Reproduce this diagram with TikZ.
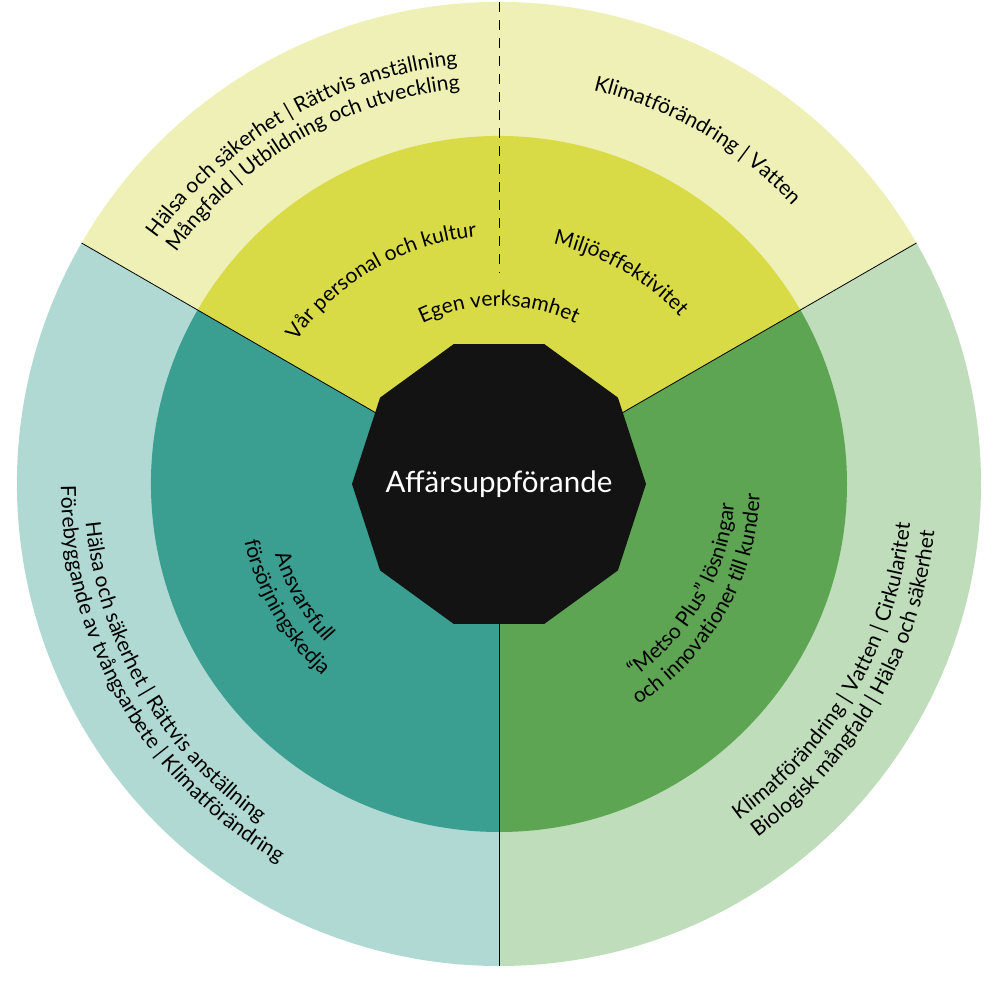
\documentclass[tikz,border=0pt]{standalone}
\usepackage{fontspec}
\setmainfont{Lato}
\usetikzlibrary{decorations.text}
\definecolor{lyel}{HTML}{EEF0B5}
\definecolor{dyel}{HTML}{D9DB46}
\definecolor{lteal}{HTML}{B0D9D4}
\definecolor{dteal}{HTML}{3A9E90}
\definecolor{lgrn}{HTML}{BFDDBA}
\definecolor{dgrn}{HTML}{5DA453}
\definecolor{coreblack}{HTML}{131313}
\newcommand\fsm{\fontsize{21}{24}\selectfont}
\tikzset{
  arctext/.style={decorate, decoration={text along path, text format delimiters={[}{]}, text align=center, text={[\fsm]#1}}},
  divider/.style={draw=black, line width=0.8pt},
  dashdiv/.style={draw=black, line width=0.9pt, dash pattern=on 10pt off 8pt},
}
\begin{document}
\begin{tikzpicture}[x=1pt,y=1pt]
\useasboundingbox (-499,-503) rectangle (507,484);
% outer ring sectors
\fill[lyel]  (0,0) -- (30:482) arc[start angle=30, end angle=150, radius=482] -- cycle;
\fill[lteal] (0,0) -- (150:482) arc[start angle=150, end angle=270, radius=482] -- cycle;
\fill[lgrn]  (0,0) -- (270:482) arc[start angle=270, end angle=390, radius=482] -- cycle;
% inner ring sectors
\fill[dyel]  (0,0) -- (30:348) arc[start angle=30, end angle=150, radius=348] -- cycle;
\fill[dteal] (0,0) -- (150:348) arc[start angle=150, end angle=270, radius=348] -- cycle;
\fill[dgrn]  (0,0) -- (270:348) arc[start angle=270, end angle=390, radius=348] -- cycle;
% dividers
\coordinate (c0) at (0,0);
\coordinate (o150) at (150:482);
\coordinate (o30) at (30:482);
\coordinate (o270) at (270:482);
\coordinate (o90) at (90:482);
\coordinate (d90) at (0,211);
\draw[divider] (c0) -- (o150);
\draw[divider] (c0) -- (o30);
\draw[divider] (c0) -- (o270);
\draw[dashdiv] (o90) -- (d90);
% core decagon
\fill[coreblack] (0:147) -- (36:147) -- (72:147) -- (108:147) -- (144:147) -- (180:147) -- (216:147) -- (252:147) -- (288:147) -- (324:147) -- cycle;
\node[anchor=base, text=white, font=\fontsize{29.5}{32}\selectfont, inner sep=0pt] (core) at (0,-9) {Affärsuppförande};
% top outer texts
\path[arctext={Hälsa och säkerhet | Rättvis anställning}] (170:421) arc[start angle=170, end angle=70, radius=421];
\path[arctext={Mångfald | Utbildning och utveckling}] (170:397) arc[start angle=170, end angle=70, radius=397];
\path[arctext={Klimatförändring | Vatten}] (110:405) arc[start angle=110, end angle=10, radius=405];
% top inner texts
\path[arctext={Vår personal och kultur}] (170:248) arc[start angle=170, end angle=70, radius=248];
\path[arctext={Miljöeffektivitet}] (110:246) arc[start angle=110, end angle=10, radius=246];
\path[arctext={Egen verksamhet}] (140:178) arc[start angle=140, end angle=40, radius=178];
% left inner texts
\path[arctext={Ansvarsfull}] (150:235) arc[start angle=150, end angle=270, radius=235];
\path[arctext={försörjningskedja}] (150:261) arc[start angle=150, end angle=270, radius=261];
% right inner texts
\path[arctext={“Metso Plus” lösningar}] (270:236) arc[start angle=270, end angle=390, radius=236];
\path[arctext={och innovationer till kunder}] (270:261) arc[start angle=270, end angle=390, radius=261];
% left outer texts
\path[arctext={Hälsa och säkerhet | Rättvis anställning}] (150:415) arc[start angle=150, end angle=270, radius=415];
\path[arctext={Förebyggande av tvångsarbete | Klimatförändring}] (150:438) arc[start angle=150, end angle=270, radius=438];
% right outer texts
\path[arctext={Klimatförändring | Vatten | Cirkularitet}] (270:413) arc[start angle=270, end angle=390, radius=413];
\path[arctext={Biologisk mångfald | Hälsa och säkerhet}] (270:438) arc[start angle=270, end angle=390, radius=438];
\end{tikzpicture}
\end{document}
